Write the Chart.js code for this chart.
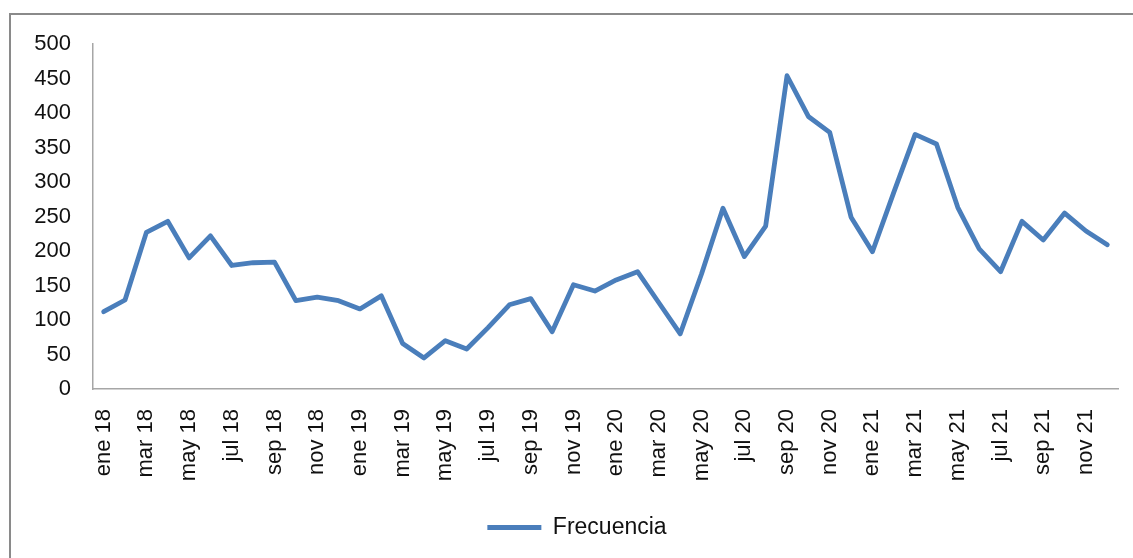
<!DOCTYPE html>
<html>
<head>
<meta charset="utf-8">
<script src="https://cdn.jsdelivr.net/npm/chart.js@4"></script>
<style>
html,body{margin:0;padding:0;background:#fff;overflow:hidden;}
#frame{position:absolute;left:9px;top:13px;width:1200px;height:600px;border:2px solid #8a8a8a;}
#wrap{position:absolute;left:0;top:0;width:1133px;height:558px;}
</style>
</head>
<body>
<div id="frame"></div>
<div id="wrap"><canvas id="c" width="1133" height="558"></canvas></div>
<script>
const months = ["ene","feb","mar","abr","may","jun","jul","ago","sep","oct","nov","dic"];
const years = ["18","19","20","21"];
const categories = [];
years.forEach(y => months.forEach(m => categories.push(m + " " + y)));
const seriesName = "Frecuencia";
const frecuencia = [
  112,129,227,243,190,222,179,183,184,128,133,128,
  116,135,66,45,70,58,89,122,131,83,151,142,
  158,170,125,80,167,262,192,236,454,395,372,249,
  199,285,369,355,263,203,170,243,216,255,229,209
];
const yTicks = [0,50,100,150,200,250,300,350,400,450,500];

const legendShift = {
  id: "legendShift",
  afterLayout(chart) {
    if (chart.legend) { chart.legend.left += 18; chart.legend.right += 18; }
  }
};

new Chart(document.getElementById("c"), {
  type: "line",
  data: {
    labels: categories,
    datasets: [{
      label: seriesName,
      data: frecuencia,
      borderColor: "#4a7ebb",
      backgroundColor: "#4a7ebb",
      borderWidth: 4.8,
      pointRadius: 0,
      pointHoverRadius: 0,
      tension: 0,
      borderJoinStyle: "round",
      borderCapStyle: "round",
      fill: false
    }]
  },
  plugins: [legendShift],
  options: {
    responsive: false,
    animation: false,
    events: [],
    layout: { padding: { top: 44, right: 15, bottom: 9, left: 0 } },
    plugins: {
      tooltip: { enabled: false },
      legend: {
        position: "bottom",
        labels: {
          usePointStyle: true,
          pointStyle: "line",
          pointStyleWidth: 54,
          color: "#111",
          font: { family: "'Liberation Sans', Arial, sans-serif", size: 23 },
          padding: 10
        }
      }
    },
    scales: {
      x: {
        type: "category",
        offset: true,
        grid: { display: false },
        border: { display: true, color: "#a6a6a6", width: 1.5 },
        ticks: {
          autoSkip: false,
          maxRotation: 90,
          minRotation: 90,
          padding: 12,
          color: "#111",
          font: { family: "'Liberation Sans', Arial, sans-serif", size: 22 },
          callback: function(v, i) { return i % 2 === 0 ? categories[i] : ""; }
        },
        afterFit: s => { s.height = 117; s.paddingLeft = 0; s.paddingRight = 0; }
      },
      y: {
        min: 0,
        max: 500,
        afterBuildTicks: s => { s.ticks = yTicks.map(v => ({ value: v })); },
        grid: { display: false },
        border: { display: true, color: "#a6a6a6", width: 1.5 },
        ticks: {
          padding: 14,
          color: "#111",
          font: { family: "'Liberation Sans', Arial, sans-serif", size: 22 }
        },
        afterFit: s => { s.width = 93; s.paddingTop = 0; s.paddingBottom = 0; }
      }
    }
  }
});
</script>
</body>
</html>
